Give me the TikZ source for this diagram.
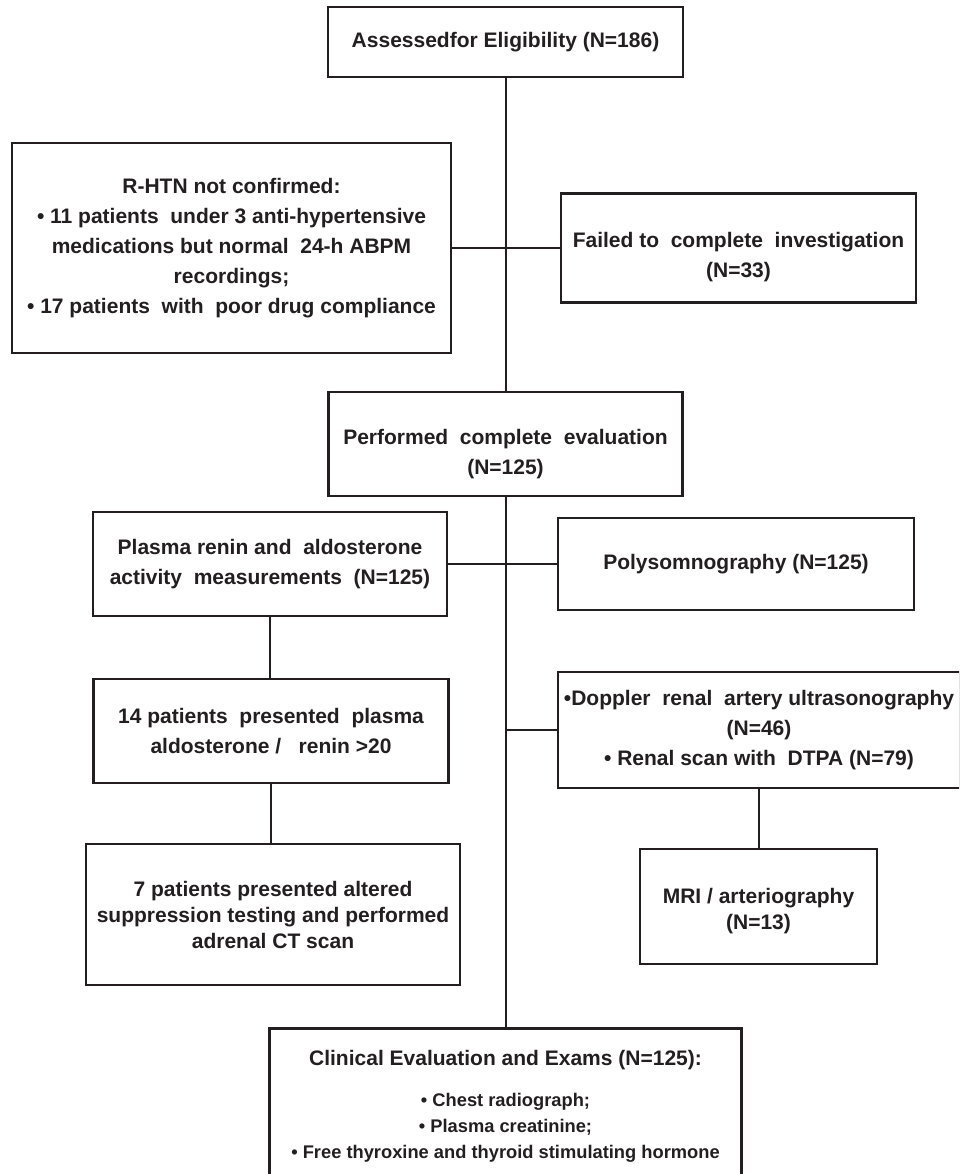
\documentclass[tikz,border=0pt]{standalone}
\usepackage{fontspec}
\setmainfont{Liberation Sans}
\definecolor{ink}{HTML}{231F20}
\tikzset{
  box/.style={draw=ink, line width=2.8pt, text=ink, align=center, inner sep=2pt,
    font=\bfseries\fontsize{21}{30}\selectfont},
  tightbox/.style={box, font=\bfseries\fontsize{21}{26}\selectfont},
  link/.style={draw=ink, line width=2pt},
}
\newcommand{\listfont}{\fontsize{18.3}{26}\selectfont}
\newcommand{\lowerby}[1]{\rule{0pt}{#1}}
\begin{document}
\begin{tikzpicture}[x=1pt, y=-1pt]
	\clip (0,0) rectangle (959,1174);

	% Main column
	\node[box, minimum width=355, minimum height=70] (elig) at (505.5,42) {Assessedfor Eligibility (N=186)};
	\node[box, minimum width=354, minimum height=104] (eval) at (505.5,444)
		{\lowerby{35pt}Performed\ \ complete\ \ evaluation\\ (N=125)};
	\node[box, anchor=north, minimum width=472, inner ysep=22pt] (clin) at (505.5,1027)
		{Clinical Evaluation and Exams (N=125):\\[11pt]
		 \listfont • Chest radiograph;\\[-4pt]
		 \listfont • Plasma creatinine;\\[-4pt]
		 \listfont • Free thyroxine and\ thyroid stimulating hormone};

	% Exclusions
	\node[box, minimum width=439, minimum height=210] (rhtn) at (231.5,248)
		{R-HTN not confirmed:\\ • 11 patients\ \ under 3 anti-hypertensive\\ medications but normal\ \ 24-h ABPM\\ recordings;\\ • 17 patients\ \ with\ \ poor drug compliance};
	\node[box, minimum width=355, minimum height=109] (fail) at (738.5,248)
		{\lowerby{33pt}Failed to\ \ complete\ \ investigation\\ (N=33)};

	% Left branch
	\node[box, minimum width=354, minimum height=104] (renin) at (270,564)
		{Plasma renin and\ \ aldosterone\\ activity\ \ measurements\ \ (N=125)};
	\node[box, minimum width=355, minimum height=104] (ratio) at (271,731)
		{14 patients\ \ presented\ \ plasma\\ aldosterone /\ \ \ renin >20};
	\node[tightbox, minimum width=374, minimum height=141] (ct) at (273,914.5)
		{7 patients presented altered\\ suppression testing and performed\\ adrenal CT scan};

	% Right branch
	\node[box, minimum width=356, minimum height=92] (poly) at (736,564) {Polysomnography (N=125)};
	\node[box, minimum width=402, minimum height=116] (dopp) at (759,730)
		{•Doppler\ \ renal\ \ artery ultrasonography\\ (N=46)\\ • Renal scan with\ \ DTPA (N=79)};
	\node[tightbox, minimum width=237, minimum height=115] (mri) at (758.5,906.5)
		{\lowerby{25pt}MRI / arteriography\\ (N=13)};

	% Connectors
	\draw[link] (elig.south) -- (eval.north);
	\draw[link] (eval.south) -- (clin.north);
	\draw[link] (rhtn.east) -- (fail.west);
	\draw[link] (renin.east) -- (poly.west);
	\draw[link] (dopp.west) -- (dopp.west -| eval.south);
	\draw[link] (renin.south) -- (renin.south |- ratio.north);
	\draw[link] (ratio.south) -- (ratio.south |- ct.north);
	\draw[link] (mri.north) -- (mri.north |- dopp.south);
\end{tikzpicture}
\end{document}
